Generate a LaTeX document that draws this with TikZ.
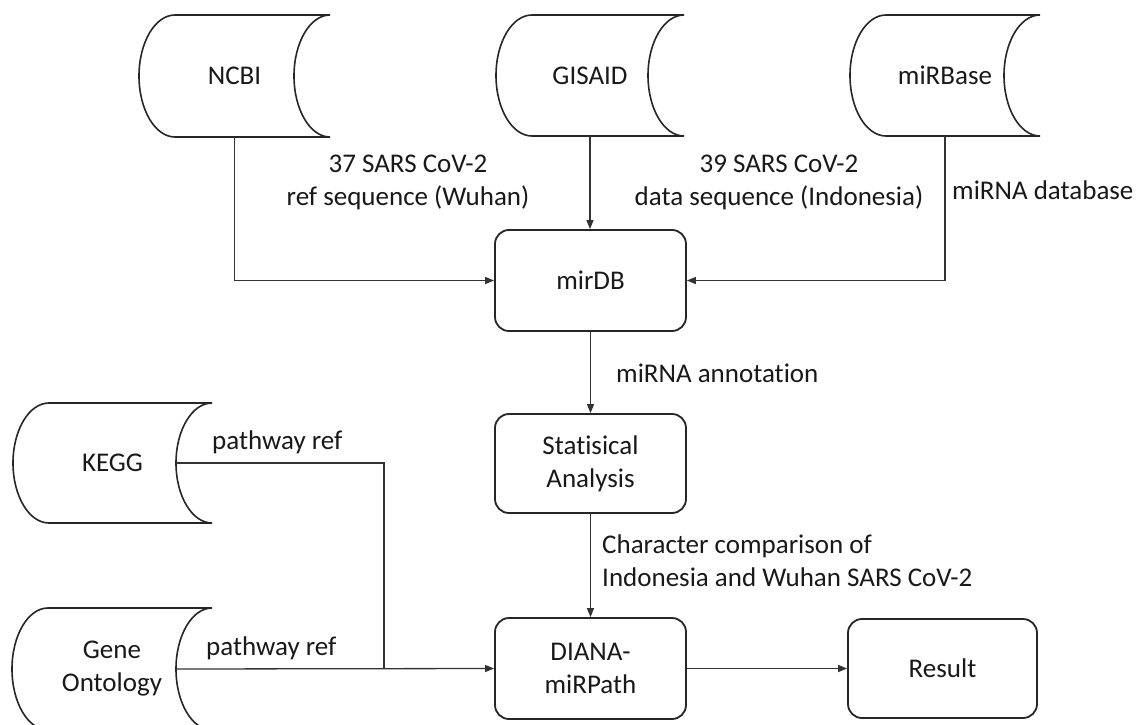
\documentclass[tikz,border=0pt]{standalone}
\usepackage{fontspec}
\setmainfont{Carlito}[Ligatures=NoCommon]
\usetikzlibrary{arrows.meta,calc}
\tikzset{
  dbline/.style={line width=1.6pt, draw=black!85},
  dbtext/.style={draw=none, inner sep=0pt, outer sep=0pt, align=center, text=black!90},
  procbox/.style={draw=black!85, line width=1.8pt, rounded corners=14pt, minimum width=191pt, minimum height=100pt, align=center, inner sep=0pt, text=black!90},
  conn/.style={line width=1.3pt, draw=black!80},
  arr/.style={conn, -{Triangle[length=9pt,width=7pt]}},
  lbl/.style={inner sep=0pt, align=center, text=black!90},
}
\newcommand{\storeshape}[6]{%
  \pgfmathsetmacro\sM{(#3+#5)/2}%
  \pgfmathsetmacro\sH{(#5-#3)/2*0.552}%
  \pgfmathsetmacro\dd{36}%
  \pgfmathsetmacro\sK{0.552*\dd}%
  \draw[dbline] ({#2+\dd},#3) -- (#4,#3)
     .. controls ({#4-\sK},#3) and ({#4-\dd},{\sM-\sH}) .. ({#4-\dd},\sM)
     .. controls ({#4-\dd},{\sM+\sH}) and ({#4-\sK},#5) .. (#4,#5)
     -- ({#2+\dd},#5)
     .. controls ({#2+\dd-\sK},#5) and (#2,{\sM+\sH}) .. (#2,\sM)
     .. controls (#2,{\sM-\sH}) and ({#2+\dd-\sK},#3) .. ({#2+\dd},#3) -- cycle;
  \node[dbtext, minimum width={#4-#2}, minimum height={#5-#3}] (#1) at ({(#2+#4)/2},\sM) {#6};
  \coordinate (#1out) at ({#4-\dd},\sM);
}
\begin{document}
\begin{tikzpicture}[x=1pt,y=-1pt]
\fontsize{27}{33}\selectfont
\useasboundingbox (0,0) rectangle (1148,725);
\clip (0,0) rectangle (1148,725);
\fill[white] (0,0) rectangle (1148,725);

% data stores
\storeshape{ncbi}{139}{15}{330}{137}{NCBI}
\storeshape{gisaid}{496}{15}{684}{136}{GISAID}
\storeshape{mirbase}{850}{15}{1040}{136}{miRBase}
\storeshape{kegg}{13}{403}{212}{523}{KEGG}
\storeshape{go}{12}{608}{212}{730}{Gene\\Ontology}

% process boxes
\node[procbox, minimum height=101pt] (mirdb) at (590.5,280.5) {mirDB};
\node[procbox, minimum height=99pt] (stats) at (590.5,463.5) {Statisical\\Analysis};
\node[procbox, minimum height=101pt] (diana) at (590.5,668.5) {DIANA-\\miRPath};
\node[procbox, minimum width=189pt, minimum height=99pt] (result) at (942.5,668.5) {Result};

% connectors
\draw[arr] (ncbi.south) |- (mirdb.west);
\draw[arr] (gisaid.south) -- (gisaid.south |- mirdb.north);
\draw[arr] (mirbase.south) |- (mirdb.east);
\draw[arr] (mirdb.south) -- (stats.north);
\draw[arr] (stats.south) -- (diana.north);
\coordinate (junction) at (384,668.5);
\draw[conn] (keggout) -| (junction);
\draw[arr] (goout) -- (diana.west);
\draw[arr] (diana.east) -- (result.west);

% labels
\node[lbl] (l1) at (408,182) {37 SARS CoV-2\\ref sequence (Wuhan)};
\node[lbl] (l2) at (779,182) {39 SARS CoV-2\\data sequence (Indonesia)};
\node[lbl, anchor=west] (l3) at (952,190) {miRNA database};
\node[lbl, anchor=west] (l4) at (616,373) {miRNA annotation};
\node[lbl, anchor=west, align=left] (l5) at (602,561) {Character comparison of\\Indonesia and Wuhan SARS CoV-2};
\node[lbl, anchor=west] (l6) at (212,442) {pathway ref};
\node[lbl, anchor=west] (l7) at (206,648) {pathway ref};
\end{tikzpicture}
\end{document}
